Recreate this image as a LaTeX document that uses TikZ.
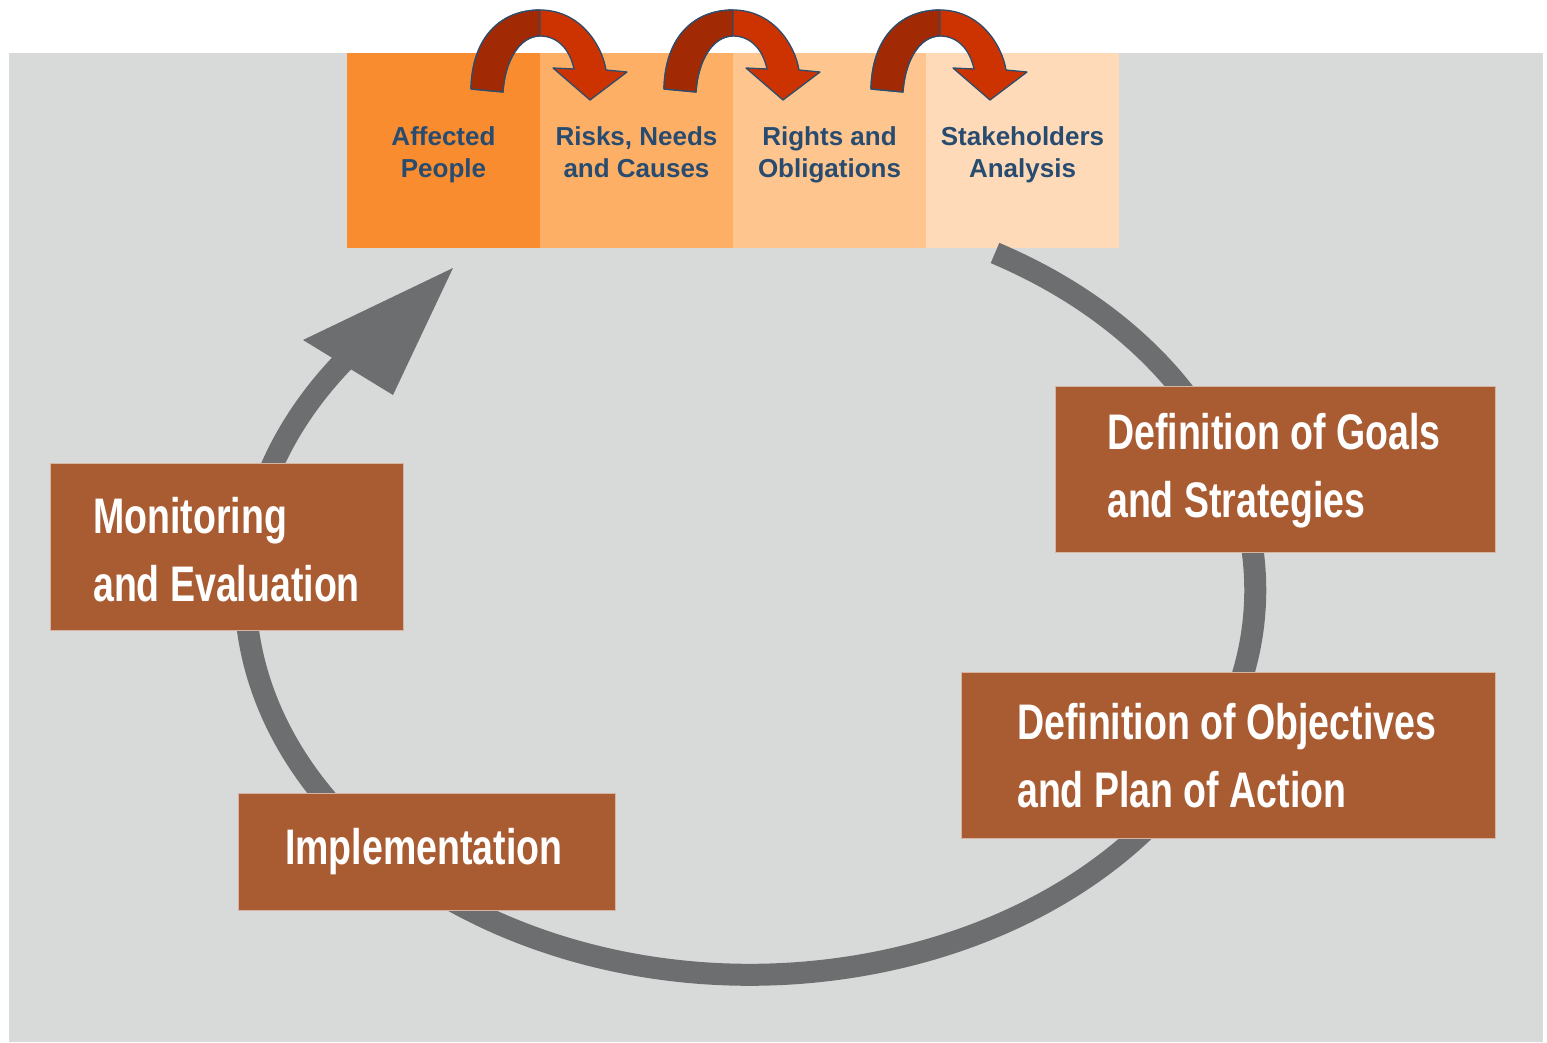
\documentclass[tikz,border=0pt]{standalone}
\usepackage{fontspec}
\setmainfont{Liberation Sans}
\newfontfamily\condfont[FakeStretch=0.75]{Liberation Sans}
\usetikzlibrary{positioning}

\definecolor{bggray}{HTML}{D8D9D9}
\definecolor{cyclegray}{HTML}{6D6E70}
\definecolor{stepbrown}{HTML}{A95B31}
\definecolor{orangeA}{HTML}{F98C2E}
\definecolor{orangeB}{HTML}{FCAF65}
\definecolor{orangeC}{HTML}{FEC58E}
\definecolor{orangeD}{HTML}{FEDAB8}
\definecolor{labelblue}{HTML}{284B70}
\definecolor{hopdark}{HTML}{A12A05}
\definecolor{hoplight}{HTML}{CC3300}
\definecolor{hopline}{HTML}{2E4D6C}

\begin{document}
\begin{tikzpicture}[
        x=1pt, y=-1pt,
        topbox/.style={rectangle, minimum width=193pt, minimum height=195pt, inner sep=0pt, text height=60pt, text depth=6pt, align=center, text=labelblue, font=\fontsize{26}{32}\selectfont\bfseries},
        stepbox/.style={rectangle, fill=stepbrown, draw=stepbrown!45!white, line width=1pt, inner sep=0pt},
        steptext/.style={anchor=west, align=left, inner sep=0pt, text=white, font=\condfont\fontsize{50}{68}\selectfont\bfseries},
        cycle/.style={draw=cyclegray, line width=22pt}
    ]
        \useasboundingbox (0,0) rectangle (1547,1042);
        \fill[white] (0,0) rectangle (1547,1042);
        \fill[bggray] (9,53) rectangle (1543,1042);

        \node[topbox, fill=orangeA] (affected) at (443.5,150.5) {Affected\\People};
        \node[topbox, fill=orangeB] (risks) at (636.5,150.5) {Risks, Needs\\and Causes};
        \node[topbox, fill=orangeC] (rights) at (829.5,150.5) {Rights and\\Obligations};
        \node[topbox, fill=orangeD] (stakeholders) at (1022.5,150.5) {Stakeholders\\Analysis};

        % hops between the analysis steps
        \foreach \dx in {0,193,400} {
            \begin{scope}[xshift=\dx pt, line width=1.3pt, line join=round]
                \filldraw[fill=hoplight, draw=hopline] (471,89) .. controls (472,38) and (500,10) .. (540,10)
                    .. controls (580,10) and (602,45) .. (606,70) -- (627,72) -- (590,100) -- (553,68) -- (574,69)
                    .. controls (570,50) and (558,36) .. (540,36) .. controls (520,36) and (505,60) .. (503,92) -- cycle;
                \filldraw[fill=hopdark, draw=hopline] (471,89) .. controls (472,38) and (500,10) .. (540,10)
                    -- (540,36) .. controls (520,36) and (505,60) .. (503,92) -- cycle;
            \end{scope}
        }

        % planning cycle
        \coordinate (cyclestart) at (995,253);
        \coordinate (cycletip) at (453,268);
        \draw[cycle] (cyclestart) arc[start angle=-61, end angle=218, x radius=505, y radius=385];
        \fill[cyclegray] (cycletip) -- (303,340) -- (393,395) -- cycle;

        \node[stepbox, minimum width=440pt, minimum height=166pt] (goals) at (1275,469) {};
        \node[stepbox, minimum width=534pt, minimum height=166pt] (objectives) at (1228,755) {};
        \node[stepbox, minimum width=377pt, minimum height=117pt] (implementation) at (426.5,851.5) {};
        \node[stepbox, minimum width=353pt, minimum height=167pt] (monitoring) at (226.5,546.5) {};

        \node[steptext] (goalstext) at (1107,471) {Definition of Goals\\and Strategies};
        \node[steptext] (objectivestext) at (1017,756) {Definition of Objectives\\and Plan of Action};
        \node[steptext] (implementationtext) at (285,852) {Implementation};
        \node[steptext] (monitoringtext) at (93,550) {Monitoring\\and Evaluation};
    \end{tikzpicture}
\end{document}
